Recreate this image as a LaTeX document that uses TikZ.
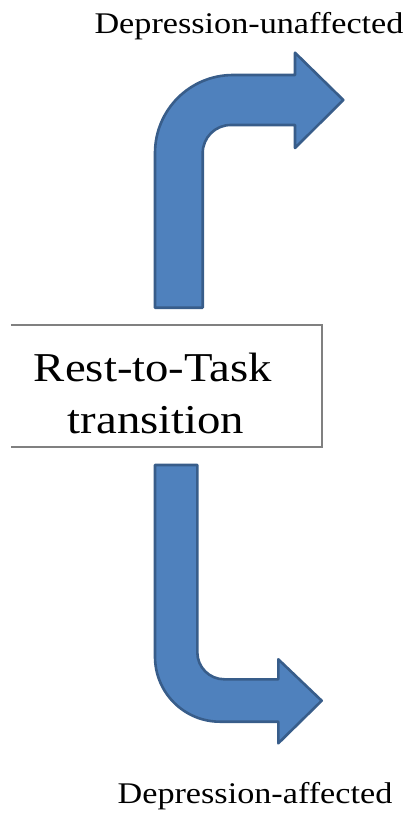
\documentclass[tikz,border=0pt]{standalone}
\usepackage{fontspec}
\setmainfont{Liberation Serif}
\newfontfamily\widefont[FakeStretch=1.14]{Liberation Serif}
\definecolor{arrowfill}{HTML}{4F81BD}
\definecolor{arrowline}{HTML}{385D8A}
\definecolor{boxline}{HTML}{808080}
\tikzset{
  bentarrow/.style={fill=arrowfill, draw=arrowline, line width=2.6pt, line join=round},
  outcome/.style={inner sep=0pt, anchor=base, font=\widefont\fontsize{30}{36}\selectfont},
  boxtext/.style={inner sep=0pt, anchor=base, font=\widefont\fontsize{41}{48}\selectfont},
}
\begin{document}
\begin{tikzpicture}[x=1pt, y=-1pt]
\useasboundingbox (0,0) rectangle (414,814);

% central box (left side open)
\node (box) [minimum width=311pt, minimum height=122pt, inner sep=0pt] at (166.5,386) {};
\draw[boxline, line width=2.5pt] (box.north west) -- (box.north east) -- (box.south east) -- (box.south west);
\node (line1) [boxtext] at (153,381.5) {Rest-to-Task};
\node (line2) [boxtext] at (156,433) {transition};

% upward bent arrow
\draw[bentarrow]
  (155,307.7) -- (155,153) arc[start angle=180, end angle=270, radius=78]
  -- (295,75) -- (295,52.7) -- (343.3,100) -- (295,148) -- (295,125)
  -- (230.7,125) arc[start angle=270, end angle=180, radius=28]
  -- (202.7,307.7) -- cycle;

% downward bent arrow
\draw[bentarrow]
  (155,465) -- (155,656.7) arc[start angle=180, end angle=90, radius=65]
  -- (278.3,721.7) -- (278.3,743.3) -- (321.7,700.7) -- (278.3,659.3) -- (278.3,679.3)
  -- (224.3,679.3) arc[start angle=90, end angle=180, radius=27]
  -- (197.3,465) -- cycle;

% outcome labels
\node (up) [outcome] at (249,33) {Depression-unaffected};
\node (down) [outcome] at (255,803) {Depression-affected};
\end{tikzpicture}
\end{document}
